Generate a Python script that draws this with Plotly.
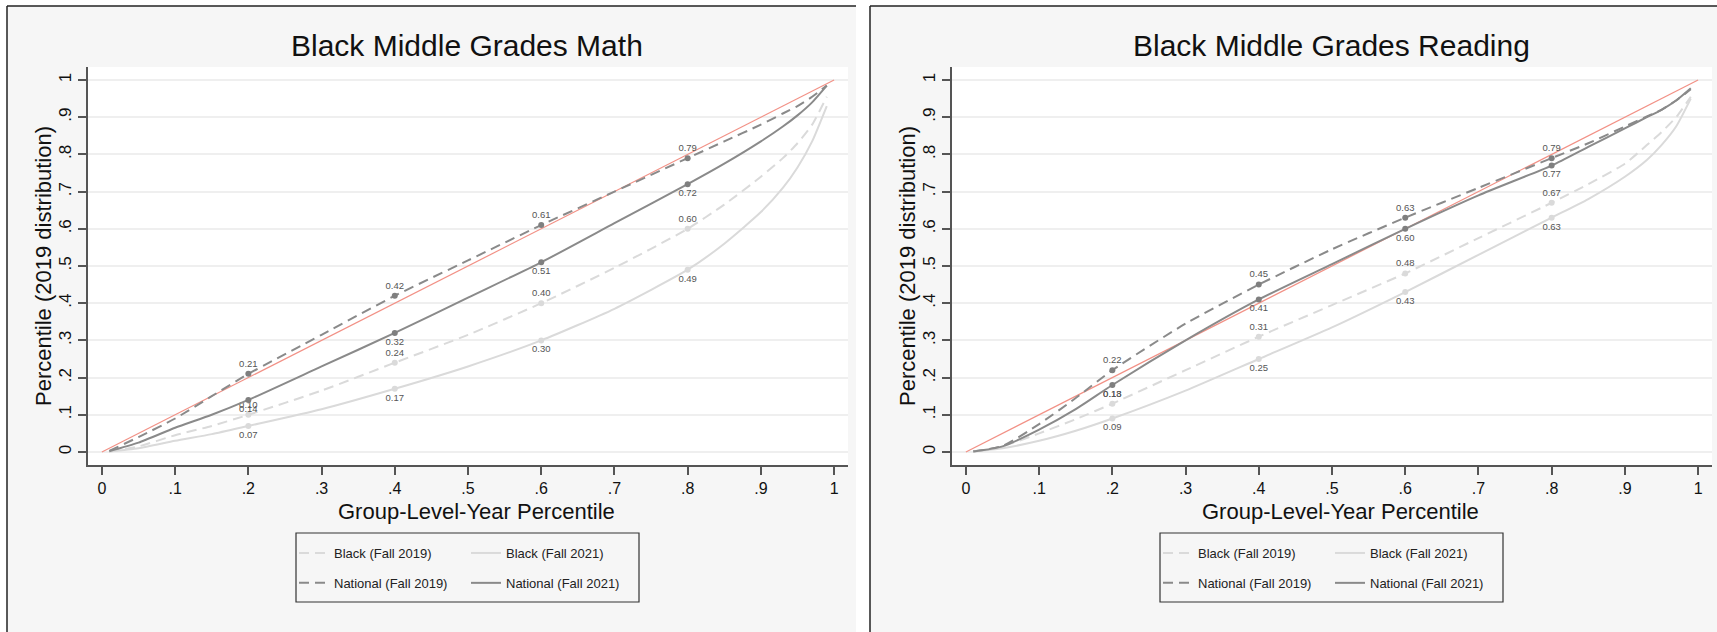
import plotly.graph_objects as go

# Percentile grid along each curve
pct = [0.01, 0.05, 0.1, 0.15, 0.2, 0.3, 0.4, 0.5, 0.6, 0.7, 0.8, 0.85, 0.9, 0.93, 0.95, 0.97, 0.99]
marker_pct = [0.2, 0.4, 0.6, 0.8]
diag = [0, 1]

# Middle grades math: position in the 2019 national distribution
math_black_2019 = [0.001, 0.015, 0.045, 0.07, 0.10, 0.165, 0.24, 0.315, 0.40, 0.495, 0.60,
                   0.665, 0.74, 0.79, 0.83, 0.88, 0.955]
math_black_2021 = [0.001, 0.01, 0.03, 0.048, 0.07, 0.115, 0.17, 0.23, 0.30, 0.385, 0.49,
                   0.56, 0.645, 0.71, 0.765, 0.835, 0.93]
math_natl_2019 = [0.003, 0.04, 0.09, 0.15, 0.21, 0.315, 0.42, 0.515, 0.61, 0.70, 0.79,
                  0.835, 0.88, 0.91, 0.93, 0.955, 0.985]
math_natl_2021 = [0.002, 0.025, 0.065, 0.10, 0.14, 0.23, 0.32, 0.415, 0.51, 0.615, 0.72,
                  0.775, 0.835, 0.875, 0.905, 0.94, 0.985]

# Middle grades reading
read_black_2019 = [0.001, 0.015, 0.05, 0.088, 0.13, 0.22, 0.31, 0.395, 0.48, 0.575, 0.67,
                   0.72, 0.775, 0.825, 0.86, 0.90, 0.955]
read_black_2021 = [0.001, 0.01, 0.03, 0.057, 0.09, 0.165, 0.25, 0.335, 0.43, 0.53, 0.63,
                   0.68, 0.74, 0.785, 0.825, 0.875, 0.95]
read_natl_2019 = [0.002, 0.016, 0.075, 0.145, 0.22, 0.345, 0.45, 0.545, 0.63, 0.71, 0.79,
                  0.83, 0.875, 0.902, 0.92, 0.945, 0.975]
read_natl_2021 = [0.001, 0.015, 0.06, 0.115, 0.18, 0.30, 0.41, 0.505, 0.60, 0.69, 0.77,
                  0.82, 0.87, 0.90, 0.92, 0.945, 0.978]

tick_vals = [0, 0.1, 0.2, 0.3, 0.4, 0.5, 0.6, 0.7, 0.8, 0.9, 1]
tick_text = ["0", ".1", ".2", ".3", ".4", ".5", ".6", ".7", ".8", ".9", "1"]

panel_titles = ["Black Middle Grades Math", "Black Middle Grades Reading"]
series_names = ["Black (Fall 2019)", "National (Fall 2019)", "Black (Fall 2021)", "National (Fall 2021)"]

W, H = 1717, 632
FONT = "Liberation Sans, Arial, Helvetica, sans-serif"
DARK = "#8a8a8a"
LIGHT = "#dadada"
DASH = "10px,6px"


def px(x):
    return x / W


def py(y):
    return 1 - y / H


fig = go.Figure()

panels = [
    dict(data=[math_black_2019, math_natl_2019, math_black_2021, math_natl_2021],
         xa="x", ya="y", off=0, legends=("legend", "legend2")),
    dict(data=[read_black_2019, read_natl_2019, read_black_2021, read_natl_2021],
         xa="x2", ya="y2", off=864, legends=("legend3", "legend4")),
]

styles = [
    dict(color=LIGHT, dash=DASH, pos="top center", col=0),
    dict(color=DARK, dash=DASH, pos="top center", col=0),
    dict(color=LIGHT, dash="solid", pos="bottom center", col=1),
    dict(color=DARK, dash="solid", pos="bottom center", col=1),
]

for p in panels:
    # 45-degree reference line
    fig.add_trace(go.Scatter(x=diag, y=diag, mode="lines", xaxis=p["xa"], yaxis=p["ya"],
                             line=dict(color="#f29186", width=1.2), showlegend=False,
                             hoverinfo="skip"))
    for vals, st, name in zip(p["data"], styles, series_names):
        fig.add_trace(go.Scatter(
            x=pct, y=vals, mode="lines", name=name, xaxis=p["xa"], yaxis=p["ya"],
            line=dict(color=st["color"], width=2, dash=st["dash"], shape="spline", smoothing=0.6),
            legend=p["legends"][st["col"]], legendgroup=p["xa"] + name))
        mx = [x for x in pct if x in marker_pct]
        my = [v for x, v in zip(pct, vals) if x in marker_pct]
        fig.add_trace(go.Scatter(
            x=mx, y=my, mode="markers+text", xaxis=p["xa"], yaxis=p["ya"],
            marker=dict(color=st["color"] if st["color"] == LIGHT else "#7f7f7f", size=6),
            text=[f"{v:.2f}" for v in my], textposition=st["pos"],
            textfont=dict(size=9.5, color="#555555", family=FONT),
            showlegend=False, hoverinfo="skip"))

axis_common = dict(range=[-0.019, 1.019], tickvals=tick_vals, ticktext=tick_text,
                   showline=True, linecolor="#555555", linewidth=1.5, ticks="outside",
                   ticklen=8, tickwidth=1.5, tickcolor="#555555", showgrid=False,
                   zeroline=False, tickfont=dict(size=16, color="#111111", family=FONT))
yaxis_common = dict(range=[-0.035, 1.035], tickvals=tick_vals, ticktext=tick_text,
                    showline=True, linecolor="#555555", linewidth=1.5, ticks="outside",
                    ticklen=8, tickwidth=1.5, tickcolor="#555555", tickangle=-90,
                    showgrid=True, gridcolor="#efefef", gridwidth=2, zeroline=False,
                    tickfont=dict(size=17, color="#111111", family=FONT))

ydom = [py(465), py(67)]
fig.update_layout(
    xaxis=dict(domain=[px(88), px(848)], anchor="y", **axis_common),
    yaxis=dict(domain=ydom, anchor="x", **yaxis_common),
    xaxis2=dict(domain=[px(952), px(1712)], anchor="y2", **axis_common),
    yaxis2=dict(domain=ydom, anchor="x2", **yaxis_common),
)

shapes = []
annotations = []
for p in panels:
    o = p["off"]
    left = 7 if o == 0 else 870
    right = 856 if o == 0 else W
    # panel background and frame
    shapes.append(dict(type="rect", xref="paper", yref="paper", x0=px(left), x1=px(right),
                       y0=0, y1=py(6), fillcolor="#f6f6f6", line=dict(width=0), layer="below"))
    shapes.append(dict(type="line", xref="paper", yref="paper", x0=px(left), x1=px(left),
                       y0=0, y1=py(6), line=dict(color="#222222", width=1.5)))
    shapes.append(dict(type="line", xref="paper", yref="paper", x0=px(left), x1=px(right),
                       y0=py(6), y1=py(6), line=dict(color="#222222", width=1.5)))
    # white plotting region
    shapes.append(dict(type="rect", xref="paper", yref="paper", x0=px(88 + o), x1=px(848 + o),
                       y0=py(465), y1=py(67), fillcolor="white", line=dict(width=0), layer="below"))
    # legend frame
    shapes.append(dict(type="rect", xref="paper", yref="paper", x0=px(296 + o), x1=px(639 + o),
                       y0=py(602), y1=py(533), line=dict(color="#333333", width=1.2)))

for title, o in zip(panel_titles, [0, 864]):
    annotations.append(dict(text=title, x=px(467 + o), y=py(45), xref="paper", yref="paper",
                            showarrow=False, xanchor="center", yanchor="middle",
                            font=dict(size=30, color="#111111", family=FONT)))
    annotations.append(dict(text="Group-Level-Year Percentile", x=px(476 + o), y=py(511),
                            xref="paper", yref="paper", showarrow=False,
                            xanchor="center", yanchor="middle",
                            font=dict(size=22, color="#111111", family=FONT)))
    annotations.append(dict(text="Percentile (2019 distribution)", x=px(43 + o), y=py(266),
                            xref="paper", yref="paper", showarrow=False, textangle=-90,
                            xanchor="center", yanchor="middle",
                            font=dict(size=22, color="#111111", family=FONT)))

legend_common = dict(orientation="v", bgcolor="rgba(0,0,0,0)", borderwidth=0,
                     font=dict(size=13, color="#222222", family=FONT), itemwidth=30,
                     tracegroupgap=10, yanchor="top", xanchor="left", y=py(538))
fig.update_layout(
    width=W, height=H, margin=dict(l=0, r=0, t=0, b=0),
    paper_bgcolor="white", plot_bgcolor="white",
    shapes=shapes, annotations=annotations,
    legend=dict(x=px(294), **legend_common),
    legend2=dict(x=px(466), **legend_common),
    legend3=dict(x=px(294 + 864), **legend_common),
    legend4=dict(x=px(466 + 864), **legend_common),
)

fig.write_html("out.html")
